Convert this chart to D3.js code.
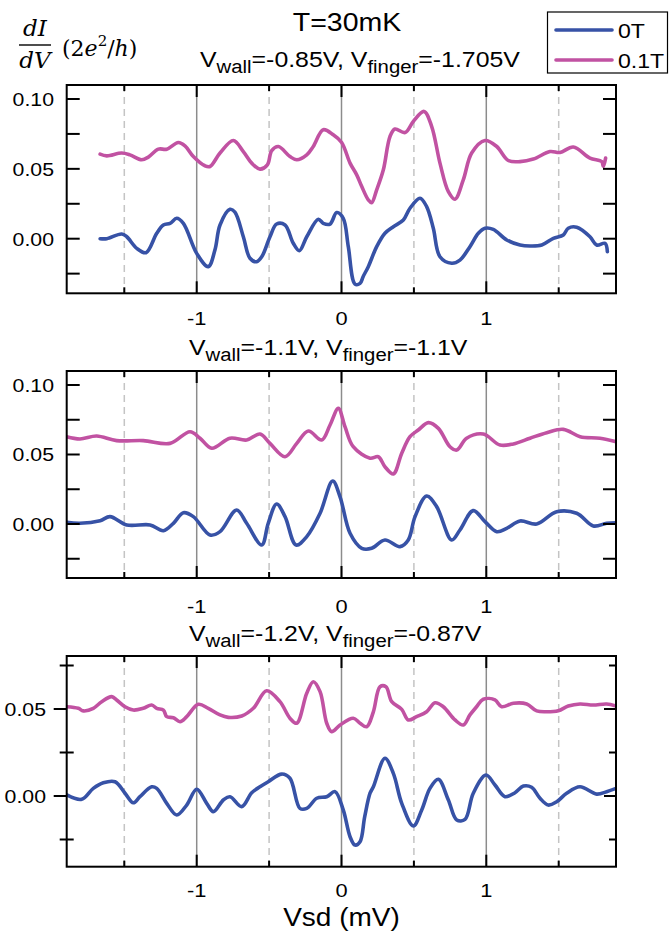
<!DOCTYPE html>
<html><head><meta charset="utf-8">
<script src="https://cdn.jsdelivr.net/npm/d3@7"></script>
<style>body{margin:0;background:#fff}svg{display:block}</style>
</head><body><svg id="c" width="670" height="932"></svg>
<script>
// ---------- data ----------
const xMajor = [-1, 0, 1];
const xMinor = [-1.5, -0.5, 0.5, 1.5];
const xTickLabels = ["-1", "0", "1"];
const yTicksA = [-0.025, 0, 0.025, 0.05, 0.075, 0.1];
const yLabelsA = [0, 0.05, 0.1];
const yTicksB = [-0.025, 0, 0.025, 0.05, 0.075];
const yLabelsB = [0, 0.05];
const seriesNames = ["0T", "0.1T"];
const mainTitle = "T=30mK";
const panelGates = [["-0.85V", "-1.705V"], ["-1.1V", "-1.1V"], ["-1.2V", "-0.87V"]];

const p1_0T = [[-1.667,0.000],[-1.621,0.000],[-1.518,0.0034],[-1.483,0.0014],[-1.414,-0.0069],[-1.350,-0.010],[-1.276,0.0039],[-1.230,0.0098],[-1.184,0.011],[-1.138,0.0146],[-1.092,0.011],[-1.0,-0.0105],[-0.920,-0.020],[-0.874,-0.008],[-0.839,0.0098],[-0.770,0.021],[-0.736,0.019],[-0.678,0.0014],[-0.632,-0.014],[-0.586,-0.0165],[-0.551,-0.013],[-0.494,0.0014],[-0.448,0.0105],[-0.390,0.0098],[-0.333,-0.0033],[-0.291,-0.0086],[-0.240,0.0014],[-0.160,0.0139],[-0.126,0.011],[-0.079,0.0105],[-0.033,0.0187],[0.012,0.0146],[0.047,-0.0057],[0.093,-0.0325],[0.128,-0.032],[0.150,-0.027],[0.185,-0.020],[0.243,-0.0057],[0.300,0.0039],[0.358,0.0086],[0.427,0.0134],[0.473,0.0218],[0.542,0.029],[0.588,0.023],[0.634,0.0075],[0.680,-0.0129],[0.761,-0.0176],[0.818,-0.0153],[0.887,-0.0057],[0.945,0.0039],[0.991,0.0075],[1.048,0.0067],[1.141,-0.0009],[1.233,-0.0045],[1.302,-0.0052],[1.383,-0.0045],[1.463,0.0003],[1.532,0.0027],[1.566,0.0075],[1.624,0.0082],[1.716,0.0014],[1.762,-0.0045],[1.820,-0.0033],[1.836,-0.0093]];
const p1_01T = [[-1.667,0.0605],[-1.621,0.0593],[-1.518,0.0613],[-1.461,0.060],[-1.380,0.0565],[-1.334,0.0584],[-1.265,0.0641],[-1.207,0.0641],[-1.127,0.0689],[-1.081,0.0665],[-1.023,0.0588],[-0.943,0.0522],[-0.908,0.0517],[-0.839,0.0613],[-0.747,0.0703],[-0.678,0.0624],[-0.620,0.0541],[-0.563,0.0498],[-0.512,0.0529],[-0.482,0.0631],[-0.436,0.066],[-0.356,0.0588],[-0.309,0.0565],[-0.240,0.060],[-0.195,0.066],[-0.126,0.078],[-0.057,0.0744],[0.001,0.0689],[0.059,0.0541],[0.105,0.0457],[0.140,0.0373],[0.185,0.0278],[0.208,0.0258],[0.243,0.035],[0.289,0.0493],[0.335,0.0732],[0.369,0.0785],[0.439,0.076],[0.496,0.0839],[0.570,0.0911],[0.623,0.0803],[0.680,0.0541],[0.738,0.0337],[0.784,0.0283],[0.841,0.0421],[0.899,0.0613],[0.991,0.0703],[1.072,0.066],[1.152,0.056],[1.233,0.0552],[1.325,0.057],[1.440,0.0624],[1.509,0.0617],[1.601,0.0656],[1.716,0.0577],[1.797,0.0552],[1.808,0.0517],[1.824,0.0577]];
const p2_0T = [[-1.898,0.0012],[-1.806,0.0005],[-1.667,0.0024],[-1.599,0.0053],[-1.483,-0.0007],[-1.322,-0.0007],[-1.230,-0.0048],[-1.161,0.0005],[-1.092,0.0081],[-1.023,0.0053],[-0.908,-0.0079],[-0.839,-0.0055],[-0.724,0.0101],[-0.655,0.0005],[-0.551,-0.0151],[-0.506,0.0005],[-0.448,0.0144],[-0.390,0.0053],[-0.314,-0.0151],[-0.240,-0.0091],[-0.148,0.0077],[-0.061,0.0309],[-0.010,0.0196],[0.059,-0.0067],[0.140,-0.0175],[0.208,-0.0175],[0.300,-0.0115],[0.404,-0.0163],[0.461,-0.0115],[0.508,0.0053],[0.588,0.0201],[0.657,0.0125],[0.761,-0.0115],[0.818,-0.0043],[0.910,0.0096],[0.991,0.0017],[1.072,-0.0055],[1.141,-0.0031],[1.233,0.0022],[1.348,0.0],[1.486,0.0088],[1.624,0.0077],[1.739,-0.0014],[1.831,0.0005],[1.896,0.0009]];
const p2_01T = [[-1.898,0.0628],[-1.806,0.0612],[-1.691,0.0633],[-1.553,0.060],[-1.369,0.060],[-1.184,0.058],[-1.046,0.0664],[-0.977,0.0617],[-0.896,0.0545],[-0.770,0.0617],[-0.655,0.0604],[-0.563,0.0647],[-0.494,0.058],[-0.390,0.0484],[-0.309,0.058],[-0.229,0.0669],[-0.137,0.0604],[-0.079,0.0712],[-0.022,0.0832],[0.024,0.070],[0.081,0.0556],[0.197,0.0473],[0.254,0.0484],[0.300,0.0412],[0.358,0.036],[0.416,0.0509],[0.473,0.0628],[0.530,0.0676],[0.600,0.0729],[0.669,0.0688],[0.749,0.0556],[0.796,0.0532],[0.864,0.0617],[0.979,0.0647],[1.095,0.0568],[1.187,0.0576],[1.302,0.0617],[1.417,0.0657],[1.532,0.0681],[1.648,0.0628],[1.785,0.0617],[1.896,0.0592]];
const p3_0T = [[-1.897,0.0006],[-1.794,-0.0019],[-1.714,0.0044],[-1.645,0.0076],[-1.564,0.0082],[-1.495,0.0016],[-1.438,-0.0039],[-1.392,-0.0004],[-1.311,0.0053],[-1.276,0.0044],[-1.207,-0.0042],[-1.138,-0.0109],[-1.069,-0.0052],[-1.0,0.0039],[-0.931,-0.0042],[-0.885,-0.009],[-0.816,-0.0023],[-0.770,-0.0004],[-0.689,-0.0061],[-0.620,0.0019],[-0.563,0.0053],[-0.506,0.0082],[-0.413,0.0126],[-0.356,0.0102],[-0.287,-0.0071],[-0.240,-0.0071],[-0.171,-0.0013],[-0.102,-0.0004],[-0.045,0.0025],[0.012,-0.008],[0.059,-0.0234],[0.093,-0.0282],[0.128,-0.0263],[0.160,-0.012],[0.197,0.0016],[0.220,0.0053],[0.300,0.0217],[0.358,0.013],[0.416,-0.0042],[0.496,-0.0172],[0.554,-0.008],[0.611,0.0044],[0.669,0.0096],[0.738,-0.0023],[0.796,-0.0138],[0.853,-0.0134],[0.910,0.0016],[0.998,0.0121],[1.060,0.0063],[1.129,-0.0004],[1.198,0.0019],[1.256,0.0057],[1.313,0.005],[1.371,-0.0013],[1.428,-0.0052],[1.486,-0.0033],[1.555,0.0016],[1.647,0.0053],[1.762,0.0011],[1.831,0.0025],[1.896,0.0044]];
const p3_01T = [[-1.897,0.0513],[-1.818,0.0504],[-1.783,0.0489],[-1.714,0.0504],[-1.656,0.0542],[-1.587,0.0571],[-1.553,0.0552],[-1.495,0.0513],[-1.438,0.0494],[-1.369,0.0504],[-1.311,0.0523],[-1.276,0.0504],[-1.230,0.0494],[-1.207,0.0456],[-1.161,0.045],[-1.115,0.0427],[-1.069,0.0456],[-0.989,0.0527],[-0.920,0.0504],[-0.839,0.0466],[-0.782,0.0452],[-0.689,0.046],[-0.609,0.0504],[-0.517,0.0605],[-0.425,0.0542],[-0.356,0.0447],[-0.309,0.0418],[-0.240,0.059],[-0.195,0.0657],[-0.148,0.060],[-0.102,0.0418],[-0.068,0.037],[-0.010,0.0408],[0.081,0.0447],[0.128,0.0418],[0.174,0.0398],[0.220,0.0484],[0.266,0.0628],[0.307,0.0628],[0.347,0.0542],[0.416,0.0498],[0.461,0.0437],[0.519,0.0456],[0.588,0.0484],[0.646,0.0536],[0.703,0.0513],[0.784,0.0437],[0.841,0.0408],[0.887,0.0466],[0.933,0.0513],[0.979,0.0556],[1.060,0.0552],[1.106,0.0513],[1.187,0.0533],[1.279,0.0529],[1.348,0.0489],[1.417,0.0484],[1.497,0.049],[1.566,0.0517],[1.647,0.0529],[1.739,0.0523],[1.831,0.0529],[1.896,0.0517]];

// ---------- layout ----------
const COLORS = ["#3752a6", "#c152a2"];
const SANS = "'Liberation Sans', Arial, sans-serif";
const SERIF = "'DejaVu Serif', serif";
const X0 = 66.7, X1 = 616;
const panels = [
  {top: 85, bottom: 293.3, yA: 238.7, yB: 99, vB: 0.1, ticks: yTicksA, labels: yLabelsA, series: [p1_0T, p1_01T], outLeft: false, labY: 325, sub: {x: 200, y: 67}},
  {top: 371, bottom: 578, yA: 524, yB: 385, vB: 0.1, ticks: yTicksA, labels: yLabelsA, series: [p2_0T, p2_01T], outLeft: false, labY: 613, sub: {x: 189, y: 355}},
  {top: 656, bottom: 866.7, yA: 796, yB: 709, vB: 0.05, ticks: yTicksB, labels: yLabelsB, series: [p3_0T, p3_01T], outLeft: true, labY: 897, sub: {x: 189, y: 641}}
];

const svg = d3.select("#c");
const x = d3.scaleLinear().domain([-1, 1]).range([196.7, 486.3]);

function stext(g, px, py, str, size, anchor, sx) {
  const gg = g.append("g").attr("transform", `translate(${px},${py}) scale(${sx},1)`);
  return gg.append("text").attr("x", 0).attr("y", 0).attr("font-family", SANS)
    .attr("font-size", size).attr("text-anchor", anchor).attr("fill", "#000").text(str);
}

function subtitle(g, px, py, gates) {
  const gg = g.append("g").attr("transform", `translate(${px},${py}) scale(1.13,1)`);
  const t = gg.append("text").attr("font-family", SANS).attr("font-size", 22).attr("fill", "#000");
  t.append("tspan").text("V");
  t.append("tspan").attr("font-size", 18).attr("dy", 6).text("wall");
  t.append("tspan").attr("dy", -6).text("=" + gates[0] + ", V");
  t.append("tspan").attr("font-size", 18).attr("dy", 6).text("finger");
  t.append("tspan").attr("dy", -6).text("=" + gates[1]);
}

const line = d3.line().curve(d3.curveCatmullRom.alpha(0.5));

panels.forEach((p, i) => {
  const y = d3.scaleLinear().domain([0, p.vB]).range([p.yA, p.yB]);
  const g = svg.append("g");
  const cid = "clip" + i;
  svg.append("clipPath").attr("id", cid).append("rect")
    .attr("x", X0).attr("y", p.top).attr("width", X1 - X0).attr("height", p.bottom - p.top);

  // grid lines
  g.selectAll(".gm").data(xMajor).enter().append("line")
    .attr("x1", d => x(d)).attr("x2", d => x(d)).attr("y1", p.top).attr("y2", p.bottom)
    .attr("stroke", "#8c8c8c").attr("stroke-width", 1.5);
  g.selectAll(".gn").data(xMinor).enter().append("line")
    .attr("x1", d => x(d)).attr("x2", d => x(d)).attr("y1", p.top).attr("y2", p.bottom)
    .attr("stroke", "#c4c4c4").attr("stroke-width", 1.5).attr("stroke-dasharray", "7,5");

  // data
  const dg = g.append("g").attr("clip-path", `url(#${cid})`);
  p.series.forEach((s, k) => {
    dg.append("path").attr("d", line(s.map(d => [x(d[0]), y(d[1])])))
      .attr("fill", "none").attr("stroke", COLORS[k]).attr("stroke-width", 3.6)
      .attr("stroke-linejoin", "round").attr("stroke-linecap", "round");
  });

  // frame
  g.append("rect").attr("x", X0).attr("y", p.top).attr("width", X1 - X0).attr("height", p.bottom - p.top)
    .attr("fill", "none").attr("stroke", "#000").attr("stroke-width", 2);

  // x ticks top & bottom (inward)
  const xt = xMajor.map(v => ({v, len: 12})).concat(xMinor.map(v => ({v, len: 6})));
  xt.forEach(t => {
    g.append("line").attr("x1", x(t.v)).attr("x2", x(t.v)).attr("y1", p.bottom).attr("y2", p.bottom - t.len)
      .attr("stroke", "#000").attr("stroke-width", 2);
    g.append("line").attr("x1", x(t.v)).attr("x2", x(t.v)).attr("y1", p.top).attr("y2", p.top + t.len)
      .attr("stroke", "#000").attr("stroke-width", 2);
  });
  xMajor.forEach((v, j) => stext(g, x(v), p.labY, xTickLabels[j], 19, "middle", 1.15));

  // y ticks
  p.ticks.forEach(v => {
    const yy = y(v);
    const major = p.labels.some(l => Math.abs(l - v) < 1e-9);
    let a, b;
    if (p.outLeft) { if (major) { a = X0 - 13; b = X0; } else { a = X0 - 7; b = X0 + 7; } }
    else { a = X0; b = X0 + 13; }
    g.append("line").attr("x1", a).attr("x2", b).attr("y1", yy).attr("y2", yy).attr("stroke", "#000").attr("stroke-width", 2);
    const rl = p.outLeft ? (major ? 12 : 7) : 13;
    g.append("line").attr("x1", X1 - rl).attr("x2", X1).attr("y1", yy).attr("y2", yy).attr("stroke", "#000").attr("stroke-width", 2);
  });
  p.labels.forEach(v => {
    stext(g, p.outLeft ? 46 : 54, y(v) + 6.8, d3.format(".2f")(v), 19, "end", 1.12);
  });

  subtitle(svg, p.sub.x, p.sub.y, panelGates[i]);
});

// title
stext(svg, 347, 31, mainTitle, 25, "middle", 1.14);

// legend
const lg = svg.append("g");
lg.append("rect").attr("x", 547.5).attr("y", 12).attr("width", 120).attr("height", 61)
  .attr("fill", "#fff").attr("stroke", "#000").attr("stroke-width", 1.2);
seriesNames.forEach((n, k) => {
  const ly = 30 + k * 30;
  lg.append("line").attr("x1", 556).attr("x2", 612).attr("y1", ly).attr("y2", ly)
    .attr("stroke", COLORS[k]).attr("stroke-width", 3.6).attr("stroke-linecap", "round");
  stext(lg, 618, ly + 7.5, n, 21, "start", 1.1);
});

// y axis label (fraction)
const yl = svg.append("g").attr("font-family", SERIF).attr("fill", "#000");
yl.append("text").attr("x", 35).attr("y", 36).attr("text-anchor", "middle").attr("font-size", 23)
  .attr("font-style", "italic").text("dI");
yl.append("line").attr("x1", 19).attr("x2", 51).attr("y1", 45).attr("y2", 45).attr("stroke", "#000").attr("stroke-width", 1.4);
yl.append("text").attr("x", 35).attr("y", 68).attr("text-anchor", "middle").attr("font-size", 23)
  .attr("font-style", "italic").text("dV");
const u = yl.append("text").attr("x", 62).attr("y", 56).attr("font-size", 22);
u.append("tspan").text("(2");
u.append("tspan").attr("font-style", "italic").text("e");
u.append("tspan").attr("font-size", 15).attr("dy", -10).text("2");
u.append("tspan").attr("dy", 10).text("/");
u.append("tspan").attr("font-style", "italic").text("h");
u.append("tspan").text(")");

// x axis title
stext(svg, 341.5, 926, "Vsd (mV)", 25, "middle", 1.12);
</script>
</body></html>
